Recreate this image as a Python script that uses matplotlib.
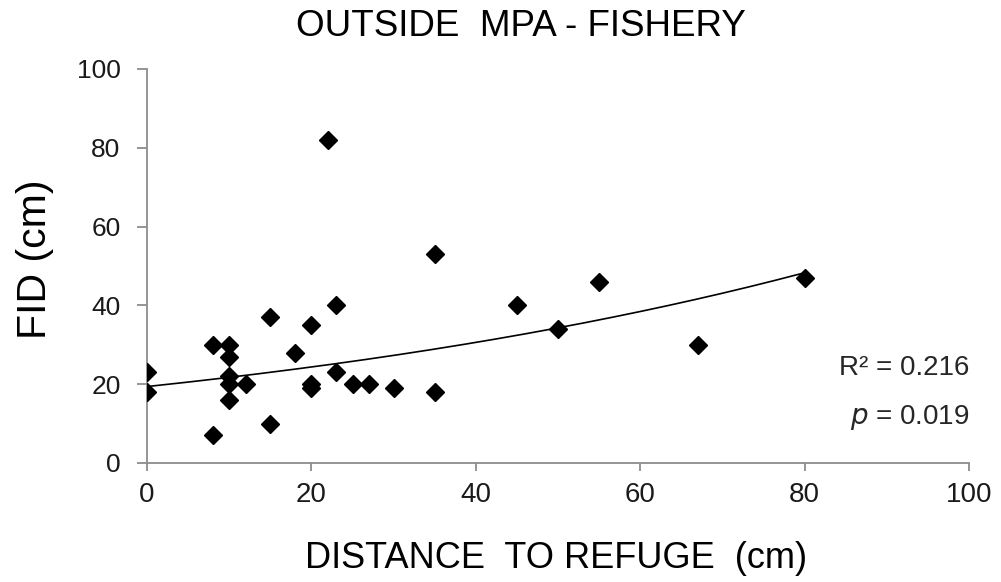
import numpy as np
import matplotlib
matplotlib.use('Agg')
import matplotlib.pyplot as plt

plt.rcParams['font.family'] = ['Liberation Sans', 'DejaVu Sans']

# distance to refuge (cm) vs flight initiation distance (cm)
distance = [0, 0, 8, 8, 10, 10, 10, 10, 10, 12, 15, 15, 18, 20, 20, 20,
            22, 23, 23, 25, 27, 30, 35, 35, 45, 50, 55, 67, 80]
fid = [23, 18, 30, 7, 30, 27, 22, 20, 16, 20, 37, 10, 28, 35, 20, 19,
       82, 40, 23, 20, 20, 19, 53, 18, 40, 34, 46, 30, 47]

# exponential trend y = a * exp(b * x)
trend_a = 19.4
trend_b = 0.0114
r2_text = 'R² = 0.216'
p_value = '0.019'

x_ticks = [0, 20, 40, 60, 80, 100]
y_ticks = [0, 20, 40, 60, 80, 100]

fig = plt.figure(figsize=(10.01, 5.82), dpi=100)
ax = fig.add_axes([147 / 1001, 119 / 582, 822 / 1001, 394 / 582])

ax.plot(distance, fid, linestyle='none', marker='D', markersize=9,
        color='black', zorder=3)

xt = np.linspace(0, max(distance), 200)
ax.plot(xt, trend_a * np.exp(trend_b * xt), color='black', lw=1.2, zorder=2)

ax.set_xlim(0, 100)
ax.set_ylim(0, 100)
ax.set_xticks(x_ticks)
ax.set_yticks(y_ticks)

for side in ['top', 'right']:
    ax.spines[side].set_visible(False)
for side in ['left', 'bottom']:
    ax.spines[side].set_color('#8c8c8c')
    ax.spines[side].set_linewidth(1.3)

ax.tick_params(axis='both', direction='out', color='#8c8c8c', width=1.3,
               labelcolor='#1a1a1a')
ax.tick_params(axis='y', length=7, pad=12, labelsize=19)
ax.tick_params(axis='x', length=6, pad=8, labelsize=20)

ax.text(100, 24, r2_text, ha='right', va='center', fontsize=20, color='#262626')
ax.text(100, 11.5, '$\\mathit{p}$ = ' + p_value, ha='right', va='center',
        fontsize=20, color='#262626')

fig.text(521 / 1001, 1 - 26 / 582, 'OUTSIDE  MPA - FISHERY', ha='center',
         va='center', fontsize=26.5, color='black')
fig.text(556 / 1001, 1 - 559 / 582, 'DISTANCE  TO REFUGE  (cm)', ha='center',
         va='center', fontsize=26, color='black')
fig.text(35 / 1001, 1 - 259 / 582, 'FID (cm)', ha='center', va='center',
         rotation=90, fontsize=29.5, color='black')

plt.savefig('out.png', dpi=100)
